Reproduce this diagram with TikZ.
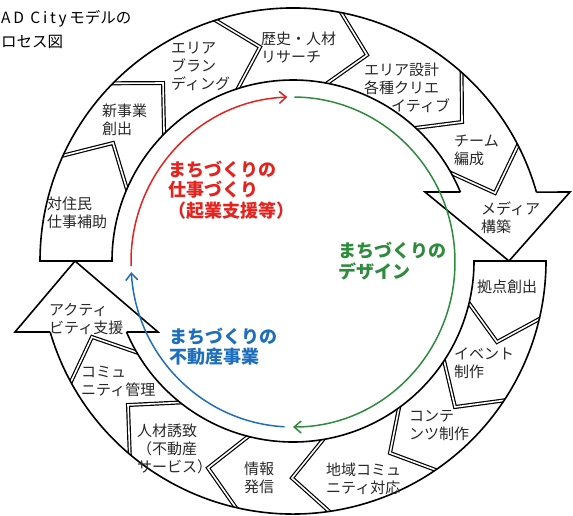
\documentclass[tikz,border=0pt]{standalone}
\usepackage{fontspec}
\setmainfont{Noto Sans CJK JP}
\usetikzlibrary{arrows.meta,calc}
\definecolor{cred}{RGB}{228,35,30}
\definecolor{cgreen}{RGB}{45,140,60}
\definecolor{cblue}{RGB}{30,110,190}
\definecolor{ctext}{RGB}{40,40,40}
\begin{document}
\begin{tikzpicture}[x=1pt,y=1pt,
  ring/.style={line width=1.6pt, draw=black, line join=miter},
  sep/.style={draw=black, double=white, line width=1.2pt, double distance=1.6pt, line join=miter},
  lbl/.style={font=\fontsize{15}{18}\selectfont, text=ctext, align=left, inner sep=0pt, anchor=west},
  big/.style={font=\bfseries\fontsize{18}{20.5}\selectfont, align=left, inner sep=0pt, anchor=west},
  flow/.style={line width=1.5pt, -{Straight Barb[length=7pt,width=12pt,line width=1.5pt]}}
]
\useasboundingbox (0,0) rectangle (573,-515);
\coordinate (C) at (293,-261);
\coordinate (D) at (293,-262);

% separators (double lines), clipped to the ring
\begin{scope}
\clip ($(C)+(0:253)$) arc[start angle=0,end angle=360,radius=253]
  -- ($(C)+(0:181)$) arc[start angle=360,end angle=0,radius=181] -- cycle;
\draw[sep] ($(C)+(159.4:174)$) -- (113,-143) -- ($(C)+(156.6:260)$);
\draw[sep] ($(C)+(137.7:174)$) -- (163,-83) -- ($(C)+(136.9:260)$);
\draw[sep] ($(C)+(110.2:174)$) -- (260,-47) -- ($(C)+(109.2:260)$);
\draw[sep] ($(C)+(81.4:174)$) -- (367,-55) -- ($(C)+(80.4:260)$);
\draw[sep] ($(C)+(49.3:174)$) -- (462,-122) -- ($(C)+(49.6:260)$);
\draw[sep] ($(C)+(32.3:174)$) -- (495,-193) -- ($(C)+(28.4:260)$);
\draw[sep] ($(C)+(-11.5:174)$) -- (497,-342) -- ($(C)+(-11.9:260)$);
\draw[sep] ($(C)+(-31.2:174)$) -- (455,-407) -- ($(C)+(-32.1:260)$);
\draw[sep] ($(C)+(-51.6:174)$) -- (390,-453) -- ($(C)+(-54.6:260)$);
\draw[sep] ($(C)+(-77.7:174)$) -- (292,-478) -- ($(C)+(-80.5:260)$);
\draw[sep] ($(C)+(257.5:174)$) -- (208,-468) -- ($(C)+(258.6:260)$);
\draw[sep] ($(C)+(234.1:174)$) -- (128,-405) -- ($(C)+(231.2:260)$);
\draw[sep] ($(C)+(213.1:174)$) -- (92,-337) -- ($(C)+(209.7:260)$);
\end{scope}

% ring outlines
\draw[ring] ($(C)+(15.8:253)$) arc[start angle=15.8,end angle=180,radius=253]
  -- ($(C)+(180:181)$) arc[start angle=180,end angle=22.4,radius=181];
\draw[ring] ($(C)+(196.3:253)$) arc[start angle=196.3,end angle=360,radius=253]
  -- ($(C)+(0:181)$) arc[start angle=360,end angle=203.1,radius=181];
% big arrow heads
\draw[ring] ($(C)+(15.8:253)$) -- (570,-192) -- (509,-261) -- (425,-192) -- ($(C)+(22.4:181)$);
\draw[ring] ($(C)+(196.3:253)$) -- (15,-332) -- (75,-261) -- (158,-332) -- ($(C)+(203.1:181)$);

% inner coloured cycle
\draw[flow, cred] ($(D)+(181.4:162 and 165)$) arc[start angle=181.4,end angle=92,x radius=162,y radius=165];
\draw[flow, cgreen] ($(D)+(89.5:162 and 165)$) arc[start angle=89.5,end angle=-90,x radius=162,y radius=165];
\draw[flow, cblue] ($(D)+(-93:162 and 165)$) arc[start angle=-93,end angle=-176.5,x radius=162,y radius=165];

% title
\node[anchor=west, inner sep=0pt, font=\fontsize{15.5}{24}\selectfont, align=left] (title) at (1,-29)
  {{\addfontfeature{LetterSpace=18}AD City}\,モデルの\\ロセス図};

% labels
\node[lbl] (t1) at (261,-48) {歴史・人材\\リサーチ};
\node[lbl] (t2) at (364,-88) {エリア設計\\各種クリエ\\\hspace*{27pt}イティブ};
\node[lbl] (t3) at (454,-150) {チーム\\編成};
\node[lbl] (t4) at (481,-217.5) {メディア\\構築};
\node[lbl] (t5) at (477,-287) {拠点創出};
\node[lbl] (t6) at (454,-363.5) {イベント\\制作};
\node[lbl] (t7) at (409,-426) {コンテ\\ンツ制作};
\node[lbl] (t8) at (326,-478.5) {地域コミュ\\ニティ対応};
\node[lbl] (t9) at (244,-478) {情報\\発信};
\node[lbl] (t10) at (137,-448.5) {人材誘致\\（不動産\\サービス）};
\node[lbl] (t11) at (81,-381.5) {コミュ\\ニティ管理};
\node[lbl] (t12) at (49,-319) {アクティ\\ビティ支援};
\node[lbl] (t13) at (47,-212.5) {対住民\\仕事補助};
\node[lbl] (t14) at (102,-120) {新事業\\創出};
\node[lbl] (t15) at (171,-66) {エリア\\ブラン\\ディング};

% coloured labels
\node[big, text=cred] (lr) at (168,-190) {まちづくりの\\仕事づくり\\（起業支援等）};
\node[big, text=cblue] (lb) at (169,-346.5) {まちづくりの\\不動産事業};
\node[big, text=cgreen] (lg) at (338,-261) {まちづくりの\\デザイン};
\end{tikzpicture}
\end{document}
